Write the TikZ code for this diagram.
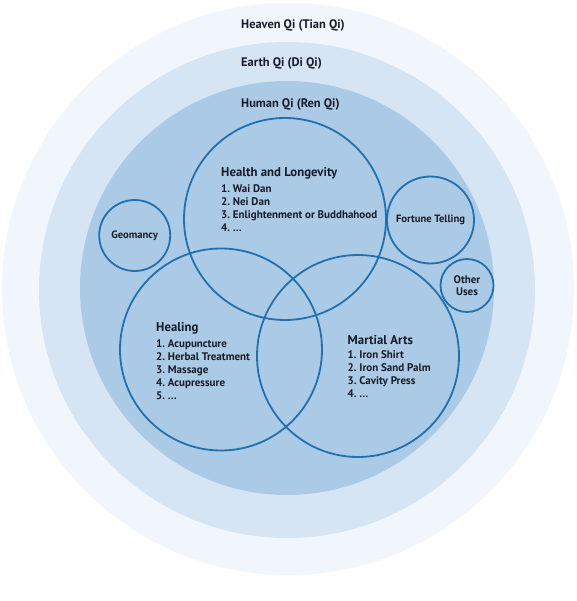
\documentclass[tikz,border=0pt]{standalone}
\usepackage{fontspec}
\setmainfont{PT Sans}
\frenchspacing
\definecolor{heavenc}{RGB}{240,246,252}
\definecolor{earthc}{RGB}{213,229,243}
\definecolor{humanc}{RGB}{170,202,229}
\definecolor{cstroke}{RGB}{34,112,176}
\definecolor{txt}{RGB}{25,28,40}
\begin{document}
\begin{tikzpicture}[x=1pt,y=-1pt,
  ring/.style={circle, inner sep=0pt, minimum size=#1, draw=none},
  topic/.style={circle, inner sep=0pt, minimum size=#1, draw=cstroke, line width=1.8pt},
  qilabel/.style={anchor=base west, inner sep=0pt, text=txt, font=\fontsize{12.4}{15}\selectfont\bfseries},
  title/.style={anchor=base west, inner sep=0pt, text=txt, font=\fontsize{12.8}{15}\selectfont\bfseries},
  item/.style={anchor=base west, inner sep=0pt, text=txt, font=\fontsize{11}{13}\selectfont\bfseries},
  small/.style={text=txt, align=center, font=\fontsize{10.6}{12.5}\selectfont\bfseries}]
\useasboundingbox (0,0) rectangle (576,601);
\fill[white] (0,0) rectangle (576,601);
% concentric qi rings
\node[ring=572pt, fill=heavenc] (heaven) at (288,289) {};
\node[ring=496pt, fill=earthc] (earth) at (287,290) {};
\node[ring=414pt, fill=humanc] (human) at (287,288) {};
\node[qilabel] (heavenlbl) at (241,29) {Heaven Qi (Tian Qi)};
\node[qilabel] (earthlbl) at (241,67) {Earth Qi (Di Qi)};
\node[qilabel] (humanlbl) at (241,108) {Human Qi (Ren Qi)};
% main topic circles
\node[topic=202pt] (health) at (285,219) {};
\node[topic=202pt] (healing) at (221,349.5) {};
\node[topic=202pt] (martial) at (358,356) {};
% small circles
\node[topic=71pt, small] (geomancy) at (134.7,235.5) {Geomancy};
\node[topic=87pt, small] (fortune) at (430.5,220) {Fortune Telling};
\node[topic=53pt, small, font=\fontsize{11}{12}\selectfont\bfseries] (other) at (467,285.5) {Other\\Uses};
% Health and Longevity
\node[title] (healthT) at (221,177) {Health and Longevity};
\foreach \t [count=\i] in {1. Wai Dan, 2. Nei Dan, 3. Enlightenment or Buddhahood, 4. …}
  \node[item] (healthI\i) at (221,{193+12.7*(\i-1)}) {\t};
% Healing
\node[title] (healingT) at (156,331.5) {Healing};
\foreach \t [count=\i] in {1. Acupuncture, 2. Herbal Treatment, 3. Massage, 4. Acupressure, 5. …}
  \node[item] (healingI\i) at (156,{347+13*(\i-1)}) {\t};
% Martial Arts
\node[title] (martialT) at (347.5,344) {Martial Arts};
\foreach \t [count=\i] in {1. Iron Shirt, 2. Iron Sand Palm, 3. Cavity Press, 4. …}
  \node[item] (martialI\i) at (347.5,{358.2+13.2*(\i-1)}) {\t};
\end{tikzpicture}
\end{document}
